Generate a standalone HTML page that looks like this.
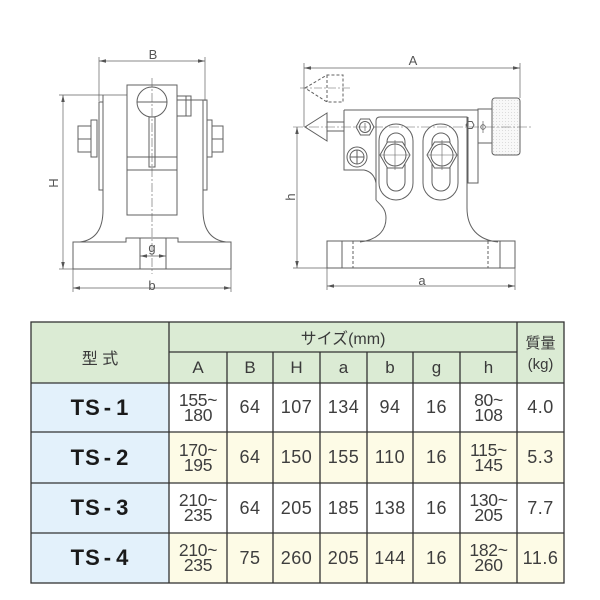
<!DOCTYPE html>
<html><head><meta charset="utf-8">
<style>
html,body{margin:0;padding:0;background:#fff;}
body{width:600px;height:600px;position:relative;overflow:hidden;font-family:"Liberation Sans","Noto Sans CJK JP",sans-serif;}
.c{position:absolute;display:flex;align-items:center;justify-content:center;color:#3e3e3e;box-sizing:border-box;text-align:center;}
.hd{background:#dbebd4;color:#3a3a3a;}
.bl{background:#e3f1fb;}
.yl{background:#fdfbe6;}
.n{font-size:18px;letter-spacing:0.5px;}
.t{font-size:17.5px;line-height:15px;flex-direction:column;letter-spacing:-0.3px;}
.m{font-weight:bold;font-size:22px;color:#1a1a1a;letter-spacing:1px;}
.m span{margin:0 4px 0 3px;}
.jp{font-family:"Liberation Sans","Noto Sans CJK JP",sans-serif;}
</style></head><body>

<svg width="600" height="310" style="position:absolute;left:0;top:0" xmlns="http://www.w3.org/2000/svg">
<defs>
<marker id="ar" viewBox="0 0 10 10" refX="10" refY="5" markerWidth="7" markerHeight="7" orient="auto-start-reverse" markerUnits="userSpaceOnUse"><path d="M0,2.5 L10,5 L0,7.5 z" fill="#555"/></marker>
<pattern id="kn" width="3" height="3" patternUnits="userSpaceOnUse"><rect width="3" height="3" fill="#f8f8f8"/><rect x="1" y="1" width="1" height="1" fill="#dcdcdc"/></pattern>
</defs>

<!-- LEFT DRAWING -->
<g stroke="#606060" stroke-width="1" fill="none">
  <line x1="99" y1="57" x2="99" y2="101" stroke-width="0.7"/>
  <line x1="205" y1="57" x2="205" y2="101" stroke-width="0.7"/>
  <line x1="99" y1="61" x2="205" y2="61" stroke-width="0.7" marker-start="url(#ar)" marker-end="url(#ar)"/>
  <line x1="59" y1="95" x2="127" y2="95" stroke-width="0.7"/>
  <line x1="59" y1="269" x2="73" y2="269" stroke-width="0.7"/>
  <line x1="63" y1="95" x2="63" y2="269" stroke-width="0.7" marker-start="url(#ar)" marker-end="url(#ar)"/>
  <path d="M103,95 V210 Q103,239 80,242"/>
  <path d="M177,100 H203 V210 Q203,239 226,242"/>
  <rect x="99" y="102" width="4" height="88"/>
  <rect x="203" y="100" width="4" height="90"/>
  <rect x="91" y="120" width="6" height="37"/>
  <rect x="78" y="126" width="13" height="26"/>
  <line x1="78" y1="139" x2="91" y2="139"/>
  <rect x="207" y="120" width="5" height="37"/>
  <rect x="212" y="126" width="11" height="26"/>
  <line x1="212" y1="139" x2="223" y2="139"/>
  <rect x="127" y="85" width="50" height="130"/>
  <line x1="127" y1="157" x2="177" y2="157"/>
  <line x1="127" y1="170" x2="177" y2="170"/>
  <circle cx="152" cy="102" r="15"/>
  <line x1="137" y1="102" x2="167" y2="102"/>
  <rect x="149" y="117" width="6" height="50"/>
  <rect x="177" y="96" width="14" height="20"/>
  <line x1="186" y1="96" x2="186" y2="116"/>
  <path d="M73,242 H126 V238 H178 V242 H231 V269 H73 Z"/>
  <line x1="140" y1="238" x2="140" y2="269"/>
  <line x1="166" y1="238" x2="166" y2="269"/>
  <line x1="140" y1="256" x2="166" y2="256" stroke-width="0.7" marker-start="url(#ar)" marker-end="url(#ar)"/>
  <line x1="73" y1="269" x2="73" y2="292" stroke-width="0.7"/>
  <line x1="231" y1="269" x2="231" y2="292" stroke-width="0.7"/>
  <line x1="73" y1="288" x2="231" y2="288" stroke-width="0.7" marker-start="url(#ar)" marker-end="url(#ar)"/>
  <line x1="152" y1="78" x2="152" y2="274" stroke-width="0.6" stroke-dasharray="9 2 2 2"/>
</g>
<g fill="#555" font-family="Liberation Sans, sans-serif" font-size="13">
  <text x="153" y="59" text-anchor="middle">B</text>
  <text x="152" y="252" text-anchor="middle">g</text>
  <text x="152" y="290" text-anchor="middle">b</text>
  <text x="0" y="0" text-anchor="middle" transform="translate(58,183) rotate(-90)">H</text>
</g>

<!-- RIGHT DRAWING -->
<g stroke="#606060" stroke-width="1" fill="none">
  <line x1="304" y1="63" x2="304" y2="127" stroke-width="0.7"/>
  <line x1="520" y1="63" x2="520" y2="98" stroke-width="0.7"/>
  <line x1="304" y1="68" x2="520" y2="68" stroke-width="0.7" marker-start="url(#ar)" marker-end="url(#ar)"/>
  <path d="M305,88 L327,75 H343 V102 H327 Z" stroke-dasharray="3 2"/>
  <line x1="327" y1="75" x2="327" y2="102" stroke-dasharray="3 2"/>
  <line x1="300" y1="88" x2="350" y2="88" stroke-width="0.6" stroke-dasharray="8 2 2 2"/>
  <path d="M327,113 L305,127 L327,141 Z"/>
  <rect x="327" y="122" width="17" height="9"/>
  <path d="M344,110 H478 V183 H467"/>
  <path d="M344,110 V170 H364 Q374,172 376,183"/>
  <line x1="468" y1="117" x2="468" y2="183"/>
  <rect x="478" y="109" width="14" height="34"/>
  <rect x="492" y="98" width="28" height="57" rx="3" fill="url(#kn)"/>
  <path d="M376,200 V121 Q376,117 380,117 H467 V208 C467,228 478,240 498,242"/>
  <path d="M376,200 C380,205 386,208 386,218 C386,232 376,240 360,242"/>
  <rect x="379" y="124" width="34" height="76" rx="17"/>
  <rect x="387" y="133" width="18" height="58" rx="9"/>
  <rect x="423" y="124" width="35" height="76" rx="17"/>
  <rect x="432" y="133" width="18" height="58" rx="9"/>
  <polygon points="380,155 387.5,142 402.5,142 410,155 402.5,168 387.5,168" fill="#fff"/>
  <circle cx="395" cy="155" r="11"/>
  <line x1="395" y1="140" x2="395" y2="170" stroke-width="0.6"/>
  <line x1="381" y1="155" x2="409" y2="155" stroke-width="0.6"/>
  <polygon points="427,155 434.5,142 449.5,142 457,155 449.5,168 434.5,168" fill="#fff"/>
  <circle cx="442" cy="155" r="11"/>
  <line x1="442" y1="140" x2="442" y2="170" stroke-width="0.6"/>
  <line x1="428" y1="155" x2="456" y2="155" stroke-width="0.6"/>
  <polygon points="356,127 360.5,119 369.5,119 374,127 369.5,135 360.5,135"/>
  <circle cx="365" cy="127" r="5.5"/>
  <line x1="365" y1="123" x2="365" y2="131" stroke-width="0.7"/>
  <circle cx="357" cy="157" r="10"/>
  <circle cx="357" cy="157" r="7"/>
  <line x1="350" y1="157" x2="364" y2="157"/>
  <line x1="357" y1="150" x2="357" y2="164"/>
  <polygon points="466,125 468,121.5 472,121.5 474,125 472,128.5 468,128.5"/>
  <circle cx="483" cy="127" r="2.3" stroke-width="0.8"/>
  <line x1="483" y1="121" x2="483" y2="133" stroke-width="0.7"/>
  <rect x="327" y="241" width="188" height="27"/>
  <line x1="342" y1="241" x2="342" y2="268"/>
  <line x1="353" y1="241" x2="353" y2="268" stroke-dasharray="3 2"/>
  <line x1="488" y1="241" x2="488" y2="268" stroke-dasharray="3 2"/>
  <line x1="500" y1="241" x2="500" y2="268"/>
  <line x1="293" y1="127" x2="533" y2="127" stroke-width="0.6" stroke-dasharray="10 2 2 2"/>
  <line x1="293" y1="268" x2="327" y2="268" stroke-width="0.7"/>
  <line x1="297" y1="127" x2="297" y2="268" stroke-width="0.7" marker-start="url(#ar)" marker-end="url(#ar)"/>
  <line x1="327" y1="268" x2="327" y2="290" stroke-width="0.7"/>
  <line x1="515" y1="268" x2="515" y2="290" stroke-width="0.7"/>
  <line x1="327" y1="286" x2="515" y2="286" stroke-width="0.7" marker-start="url(#ar)" marker-end="url(#ar)"/>
</g>
<g fill="#555" font-family="Liberation Sans, sans-serif" font-size="13">
  <text x="413" y="65" text-anchor="middle">A</text>
  <text x="422" y="285" text-anchor="middle">a</text>
  <text x="0" y="0" text-anchor="middle" transform="translate(295,197) rotate(-90)">h</text>
</g>
</svg>

<!-- TABLE -->
<div class="c hd jp" style="left:31px;top:322px;width:138px;height:61px;font-size:16px;padding-top:9px;">型 式</div>
<div class="c hd jp" style="left:169px;top:322px;width:348px;height:30px;font-size:16px;">サイズ(mm)</div>
<div class="c hd jp" style="left:517px;top:322px;width:47px;height:61px;font-size:15px;flex-direction:column;line-height:21px;padding-top:2px;"><div>質量</div><div>(kg)</div></div>

<div class="c hd" style="left:169px;top:352px;width:58px;height:31px;font-size:17px;">A</div>
<div class="c hd" style="left:227px;top:352px;width:46px;height:31px;font-size:17px;">B</div>
<div class="c hd" style="left:273px;top:352px;width:47px;height:31px;font-size:17px;">H</div>
<div class="c hd" style="left:320px;top:352px;width:47px;height:31px;font-size:17px;">a</div>
<div class="c hd" style="left:367px;top:352px;width:46px;height:31px;font-size:17px;">b</div>
<div class="c hd" style="left:413px;top:352px;width:47px;height:31px;font-size:17px;">g</div>
<div class="c hd" style="left:460px;top:352px;width:57px;height:31px;font-size:17px;">h</div>

<div class="c bl m" style="left:31px;top:383px;width:138px;height:49px;">TS<span>-</span>1</div>
<div class="c t" style="left:169px;top:383px;width:58px;height:49px;"><div>155~</div><div>180</div></div>
<div class="c n" style="left:227px;top:383px;width:46px;height:49px;">64</div>
<div class="c n" style="left:273px;top:383px;width:47px;height:49px;">107</div>
<div class="c n" style="left:320px;top:383px;width:47px;height:49px;">134</div>
<div class="c n" style="left:367px;top:383px;width:46px;height:49px;">94</div>
<div class="c n" style="left:413px;top:383px;width:47px;height:49px;">16</div>
<div class="c t" style="left:460px;top:383px;width:57px;height:49px;"><div>80~</div><div>108</div></div>
<div class="c n" style="left:517px;top:383px;width:47px;height:49px;">4.0</div>

<div class="c bl m" style="left:31px;top:432px;width:138px;height:51px;">TS<span>-</span>2</div>
<div class="c t yl" style="left:169px;top:432px;width:58px;height:51px;"><div>170~</div><div>195</div></div>
<div class="c n yl" style="left:227px;top:432px;width:46px;height:51px;">64</div>
<div class="c n yl" style="left:273px;top:432px;width:47px;height:51px;">150</div>
<div class="c n yl" style="left:320px;top:432px;width:47px;height:51px;">155</div>
<div class="c n yl" style="left:367px;top:432px;width:46px;height:51px;">110</div>
<div class="c n yl" style="left:413px;top:432px;width:47px;height:51px;">16</div>
<div class="c t yl" style="left:460px;top:432px;width:57px;height:51px;"><div>115~</div><div>145</div></div>
<div class="c n yl" style="left:517px;top:432px;width:47px;height:51px;">5.3</div>

<div class="c bl m" style="left:31px;top:483px;width:138px;height:50px;">TS<span>-</span>3</div>
<div class="c t" style="left:169px;top:483px;width:58px;height:50px;"><div>210~</div><div>235</div></div>
<div class="c n" style="left:227px;top:483px;width:46px;height:50px;">64</div>
<div class="c n" style="left:273px;top:483px;width:47px;height:50px;">205</div>
<div class="c n" style="left:320px;top:483px;width:47px;height:50px;">185</div>
<div class="c n" style="left:367px;top:483px;width:46px;height:50px;">138</div>
<div class="c n" style="left:413px;top:483px;width:47px;height:50px;">16</div>
<div class="c t" style="left:460px;top:483px;width:57px;height:50px;"><div>130~</div><div>205</div></div>
<div class="c n" style="left:517px;top:483px;width:47px;height:50px;">7.7</div>

<div class="c bl m" style="left:31px;top:533px;width:138px;height:50px;">TS<span>-</span>4</div>
<div class="c t yl" style="left:169px;top:533px;width:58px;height:50px;"><div>210~</div><div>235</div></div>
<div class="c n yl" style="left:227px;top:533px;width:46px;height:50px;">75</div>
<div class="c n yl" style="left:273px;top:533px;width:47px;height:50px;">260</div>
<div class="c n yl" style="left:320px;top:533px;width:47px;height:50px;">205</div>
<div class="c n yl" style="left:367px;top:533px;width:46px;height:50px;">144</div>
<div class="c n yl" style="left:413px;top:533px;width:47px;height:50px;">16</div>
<div class="c t yl" style="left:460px;top:533px;width:57px;height:50px;"><div>182~</div><div>260</div></div>
<div class="c n yl" style="left:517px;top:533px;width:47px;height:50px;">11.6</div>

<svg width="600" height="600" style="position:absolute;left:0;top:0;pointer-events:none" xmlns="http://www.w3.org/2000/svg">
<g stroke="#333" stroke-width="1.3" fill="none">
  <rect x="31" y="322" width="533" height="261"/>
  <line x1="169" y1="352" x2="517" y2="352"/>
  <line x1="31" y1="383" x2="564" y2="383"/>
  <line x1="31" y1="432" x2="564" y2="432"/>
  <line x1="31" y1="483" x2="564" y2="483"/>
  <line x1="31" y1="533" x2="564" y2="533"/>
  <line x1="169" y1="322" x2="169" y2="583"/>
  <line x1="517" y1="322" x2="517" y2="583"/>
  <line x1="227" y1="352" x2="227" y2="583"/>
  <line x1="273" y1="352" x2="273" y2="583"/>
  <line x1="320" y1="352" x2="320" y2="583"/>
  <line x1="367" y1="352" x2="367" y2="583"/>
  <line x1="413" y1="352" x2="413" y2="583"/>
  <line x1="460" y1="352" x2="460" y2="583"/>
</g>
</svg>
</body></html>
